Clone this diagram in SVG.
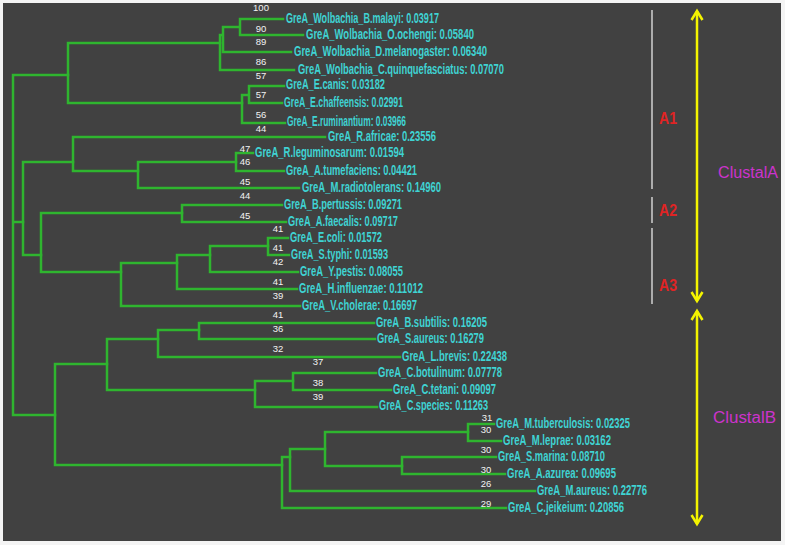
<svg xmlns="http://www.w3.org/2000/svg" width="785" height="545" viewBox="0 0 785 545">
<style>
.bg{fill:#414141}
.edge{fill:none;stroke:#2fb52f;stroke-width:2.5;stroke-linecap:square}
.leaf{font-family:"Liberation Sans",Arial,sans-serif;font-weight:bold;font-size:14.5px;fill:#3fd3d3}
.bs{font-family:"Liberation Sans",Arial,sans-serif;font-size:9.5px;fill:#f2f2f2;text-anchor:middle}
.bar{stroke:#c8c8c8;stroke-width:1.6}
.sub{font-family:"Liberation Sans",Arial,sans-serif;font-weight:bold;font-size:16px;fill:#e02424}
.clu{font-family:"Liberation Sans",Arial,sans-serif;font-size:16px;fill:#cc33cc}
.arr{stroke:#f4f400;stroke-width:2.5;fill:none;marker-start:url(#chev);marker-end:url(#chev)}
</style>
<defs>
<marker id="chev" markerUnits="userSpaceOnUse" viewBox="-12 -8 14 16" markerWidth="14" markerHeight="16" refX="0" refY="0" orient="auto-start-reverse" overflow="visible">
<path d="M-9,-5.5 L0,0 L-9,5.5" fill="none" stroke="#f4f400" stroke-width="2.5"/>
</marker>
</defs>
<rect x="0" y="0" width="785" height="545" fill="#f4f4f4"/>
<rect class="bg" x="3" y="3" width="778" height="538"/>

<g id="connectors" class="edge">
<path d="M13,75 V415 M13,75 H68 M13,222 H23 M13,415 H55"/>
<path d="M68,43 V103 M68,43 H220 M68,103 H242"/>
<path d="M220,35 V70 M220,35 H223 M223,27 V52 M223,27 H240 M240,19 V35 M240,19 H283 M240,35 H303 M223,52 H291 M220,70 H294"/>
<path d="M242,95 V123 M242,95 H249 M249,86 V103 M249,86 H284 M249,103 H282 M242,123 H285"/>
<path d="M23,162 V255 M23,162 H73 M23,255 H41"/>
<path d="M73,137 V171 M73,137 H325 M73,171 H138"/>
<path d="M138,162 V188 M138,162 H236 M138,188 H299"/>
<path d="M236,153 V171 M236,153 H253 M236,171 H284"/>
<path d="M41,213 V272 M41,213 H182 M41,272 H121"/>
<path d="M182,205 V222 M182,205 H282 M182,222 H286"/>
<path d="M121,263 V306 M121,263 H177 M121,306 H300"/>
<path d="M177,255 V289 M177,255 H210 M177,289 H297"/>
<path d="M210,246 V272 M210,246 H268 M210,272 H298"/>
<path d="M268,238 V255 M268,238 H288 M268,255 H289"/>
<path d="M55,364 V465 M55,364 H107 M55,465 H282"/>
<path d="M107,339 V390 M107,339 H158 M107,390 H255"/>
<path d="M158,330 V357 M158,330 H199 M158,357 H400"/>
<path d="M199,323 V339 M199,323 H374 M199,339 H375"/>
<path d="M255,381 V407 M255,381 H293 M255,407 H377"/>
<path d="M293,373 V390 M293,373 H376 M293,390 H391"/>
<path d="M282,457 V508 M282,457 H290 M282,508 H506"/>
<path d="M290,449 V491 M290,449 H325 M290,491 H535"/>
<path d="M325,432 V466 M325,432 H468 M325,466 H402"/>
<path d="M468,424 V441 M468,424 H494 M468,441 H501"/>
<path d="M402,457 V474 M402,457 H496 M402,474 H505"/>
</g>

<g id="leaf-B-malayi"><text class="leaf" x="286" y="23" textLength="153" lengthAdjust="spacingAndGlyphs">GreA_Wolbachia_B.malayi: 0.03917</text></g>
<g id="leaf-O-ochengi"><text class="leaf" x="306" y="39" textLength="168" lengthAdjust="spacingAndGlyphs">GreA_Wolbachia_O.ochengi: 0.05840</text></g>
<g id="leaf-D-melanogaster"><text class="leaf" x="294" y="56" textLength="193" lengthAdjust="spacingAndGlyphs">GreA_Wolbachia_D.melanogaster: 0.06340</text></g>
<g id="leaf-C-quinquefasciatus"><text class="leaf" x="298" y="74" textLength="206" lengthAdjust="spacingAndGlyphs">GreA_Wolbachia_C.quinquefasciatus: 0.07070</text></g>
<g id="leaf-E-canis"><text class="leaf" x="286" y="89" textLength="99" lengthAdjust="spacingAndGlyphs">GreA_E.canis: 0.03182</text></g>
<g id="leaf-E-chaffeensis"><text class="leaf" x="284" y="107" textLength="119" lengthAdjust="spacingAndGlyphs">GreA_E.chaffeensis: 0.02991</text></g>
<g id="leaf-E-ruminantium"><text class="leaf" x="287" y="126" textLength="119" lengthAdjust="spacingAndGlyphs">GreA_E.ruminantium: 0.03966</text></g>
<g id="leaf-R-africae"><text class="leaf" x="328" y="141" textLength="108" lengthAdjust="spacingAndGlyphs">GreA_R.africae: 0.23556</text></g>
<g id="leaf-R-leguminosarum"><text class="leaf" x="255" y="157" textLength="149" lengthAdjust="spacingAndGlyphs">GreA_R.leguminosarum: 0.01594</text></g>
<g id="leaf-A-tumefaciens"><text class="leaf" x="286" y="175" textLength="131" lengthAdjust="spacingAndGlyphs">GreA_A.tumefaciens: 0.04421</text></g>
<g id="leaf-M-radiotolerans"><text class="leaf" x="302" y="192" textLength="139" lengthAdjust="spacingAndGlyphs">GreA_M.radiotolerans: 0.14960</text></g>
<g id="leaf-B-pertussis"><text class="leaf" x="284" y="209" textLength="118" lengthAdjust="spacingAndGlyphs">GreA_B.pertussis: 0.09271</text></g>
<g id="leaf-A-faecalis"><text class="leaf" x="288" y="226" textLength="110" lengthAdjust="spacingAndGlyphs">GreA_A.faecalis: 0.09717</text></g>
<g id="leaf-E-coli"><text class="leaf" x="290" y="242" textLength="92" lengthAdjust="spacingAndGlyphs">GreA_E.coli: 0.01572</text></g>
<g id="leaf-S-typhi"><text class="leaf" x="291" y="259" textLength="97" lengthAdjust="spacingAndGlyphs">GreA_S.typhi: 0.01593</text></g>
<g id="leaf-Y-pestis"><text class="leaf" x="300" y="276" textLength="103" lengthAdjust="spacingAndGlyphs">GreA_Y.pestis: 0.08055</text></g>
<g id="leaf-H-influenzae"><text class="leaf" x="299" y="293" textLength="124" lengthAdjust="spacingAndGlyphs">GreA_H.influenzae: 0.11012</text></g>
<g id="leaf-V-cholerae"><text class="leaf" x="302" y="310" textLength="115" lengthAdjust="spacingAndGlyphs">GreA_V.cholerae: 0.16697</text></g>
<g id="leaf-B-subtilis"><text class="leaf" x="376" y="327" textLength="111" lengthAdjust="spacingAndGlyphs">GreA_B.subtilis: 0.16205</text></g>
<g id="leaf-S-aureus"><text class="leaf" x="377" y="343" textLength="107" lengthAdjust="spacingAndGlyphs">GreA_S.aureus: 0.16279</text></g>
<g id="leaf-L-brevis"><text class="leaf" x="402" y="361" textLength="105" lengthAdjust="spacingAndGlyphs">GreA_L.brevis: 0.22438</text></g>
<g id="leaf-C-botulinum"><text class="leaf" x="378" y="377" textLength="124" lengthAdjust="spacingAndGlyphs">GreA_C.botulinum: 0.07778</text></g>
<g id="leaf-C-tetani"><text class="leaf" x="393" y="394" textLength="103" lengthAdjust="spacingAndGlyphs">GreA_C.tetani: 0.09097</text></g>
<g id="leaf-C-species"><text class="leaf" x="379" y="410" textLength="109" lengthAdjust="spacingAndGlyphs">GreA_C.species: 0.11263</text></g>
<g id="leaf-M-tuberculosis"><text class="leaf" x="496" y="428" textLength="134" lengthAdjust="spacingAndGlyphs">GreA_M.tuberculosis: 0.02325</text></g>
<g id="leaf-M-leprae"><text class="leaf" x="503" y="445" textLength="108" lengthAdjust="spacingAndGlyphs">GreA_M.leprae: 0.03162</text></g>
<g id="leaf-S-marina"><text class="leaf" x="498" y="461" textLength="107" lengthAdjust="spacingAndGlyphs">GreA_S.marina: 0.08710</text></g>
<g id="leaf-A-azurea"><text class="leaf" x="507" y="478" textLength="109" lengthAdjust="spacingAndGlyphs">GreA_A.azurea: 0.09695</text></g>
<g id="leaf-M-aureus"><text class="leaf" x="537" y="495" textLength="110" lengthAdjust="spacingAndGlyphs">GreA_M.aureus: 0.22776</text></g>
<g id="leaf-C-jeikeium"><text class="leaf" x="508" y="512" textLength="116" lengthAdjust="spacingAndGlyphs">GreA_C.jeikeium: 0.20856</text></g>

<g id="bootstrap-values">
<text class="bs" x="261" y="11">100</text>
<text class="bs" x="261" y="32">90</text>
<text class="bs" x="261" y="45">89</text>
<text class="bs" x="261" y="65">86</text>
<text class="bs" x="261" y="79">57</text>
<text class="bs" x="261" y="98">57</text>
<text class="bs" x="261" y="118">56</text>
<text class="bs" x="261" y="132">44</text>
<text class="bs" x="245" y="152">47</text>
<text class="bs" x="245" y="165">46</text>
<text class="bs" x="245" y="185">45</text>
<text class="bs" x="245" y="199">44</text>
<text class="bs" x="245" y="219">45</text>
<text class="bs" x="278" y="232">41</text>
<text class="bs" x="278" y="251">41</text>
<text class="bs" x="278" y="265">42</text>
<text class="bs" x="278" y="285">41</text>
<text class="bs" x="278" y="299">39</text>
<text class="bs" x="278" y="318">41</text>
<text class="bs" x="278" y="332">36</text>
<text class="bs" x="278" y="352">32</text>
<text class="bs" x="318" y="365">37</text>
<text class="bs" x="318" y="386">38</text>
<text class="bs" x="318" y="400">39</text>
<text class="bs" x="487" y="421">31</text>
<text class="bs" x="486" y="433">30</text>
<text class="bs" x="486" y="453">30</text>
<text class="bs" x="486" y="473">30</text>
<text class="bs" x="486" y="487">26</text>
<text class="bs" x="486" y="507">29</text>
</g>

<g id="subgroup-A1"><line class="bar" x1="652" y1="10" x2="652" y2="189"/><text class="sub" x="659" y="124" textLength="18" lengthAdjust="spacingAndGlyphs">A1</text></g>
<g id="subgroup-A2"><line class="bar" x1="652" y1="197" x2="652" y2="223"/><text class="sub" x="659" y="216" textLength="18" lengthAdjust="spacingAndGlyphs">A2</text></g>
<g id="subgroup-A3"><line class="bar" x1="652" y1="228" x2="652" y2="304"/><text class="sub" x="659" y="291" textLength="18" lengthAdjust="spacingAndGlyphs">A3</text></g>
<g id="clustal-A"><line class="arr" x1="697" y1="11" x2="697" y2="301"/><text class="clu" x="718" y="178" textLength="60" lengthAdjust="spacingAndGlyphs">ClustalA</text></g>
<g id="clustal-B"><line class="arr" x1="697" y1="311" x2="697" y2="524"/><text class="clu" x="713" y="423" textLength="63" lengthAdjust="spacingAndGlyphs">ClustalB</text></g>
</svg>
